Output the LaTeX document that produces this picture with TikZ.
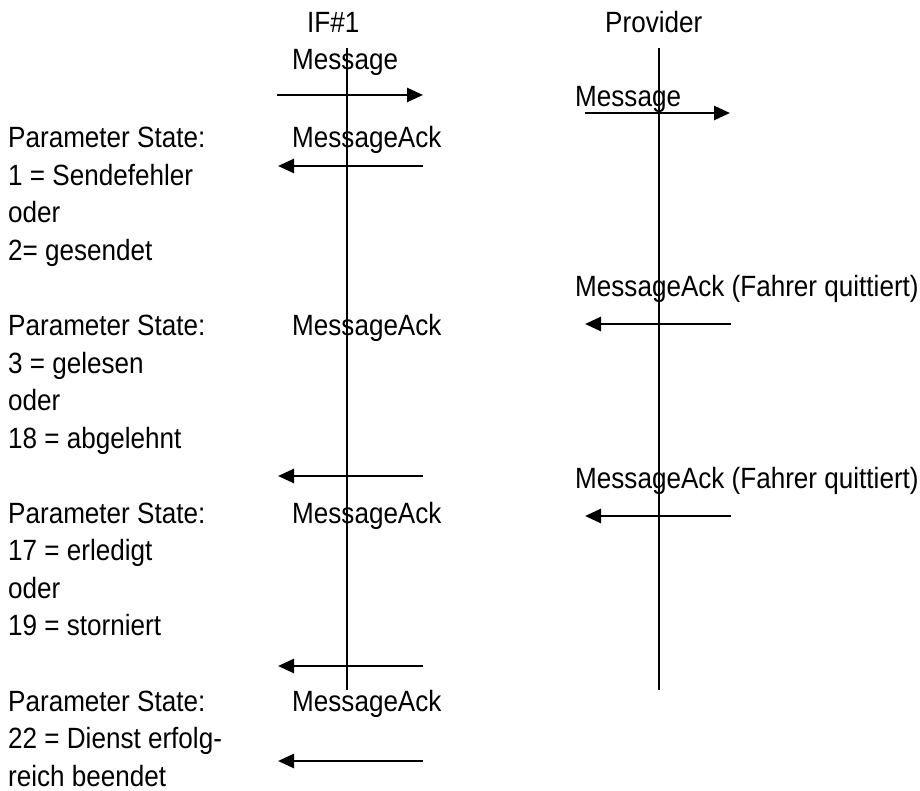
\documentclass[tikz,border=0pt]{standalone}
\usepackage{fontspec}
\setmainfont{Liberation Sans}[FakeStretch=0.89]
\usetikzlibrary{arrows.meta}
\newcommand{\lines}[1]{\vtop{\baselineskip=37.5pt\lineskiplimit=-100pt #1}}
\begin{document}
\begin{tikzpicture}[x=1pt,y=-1pt,
  lbl/.style={inner sep=0pt,anchor=base west,font=\fontsize{29.3}{37.5}\selectfont},
  msg/.style={line width=2.6pt,-{Triangle[length=16pt,width=14pt]}},
  life/.style={line width=2pt}]
\useasboundingbox (0,0) rectangle (920,791);
% headers
\node[lbl] (hif) at (307,33) {IF\#1};
\node[lbl] (hprov) at (605,33) {Provider};
% lifelines
\coordinate (ift) at (347,48);
\coordinate (ifb) at (347,690);
\coordinate (pt) at (659,48);
\coordinate (pb) at (659,690);
\draw[life] (ift) -- (ifb);
\draw[life] (pt) -- (pb);
% labels at IF#1
\node[lbl] (lm1) at (292,70) {Message};
\node[lbl] (la1) at (292,148) {MessageAck};
\node[lbl] (la2) at (292,335.5) {MessageAck};
\node[lbl] (la3) at (292,523) {MessageAck};
\node[lbl] (la4) at (292,711) {MessageAck};
% labels at provider
\node[lbl] (pm1) at (575,107) {Message};
\node[lbl] (pa1) at (575,297) {MessageAck (Fahrer quittiert)};
\node[lbl] (pa2) at (575,488) {MessageAck (Fahrer quittiert)};
% left blocks
\node[lbl] (b1) at (8,148) {\lines{\hbox{Parameter State:}\hbox{1 = Sendefehler}\hbox{oder}\hbox{2= gesendet}}};
\node[lbl] (b2) at (8,335.5) {\lines{\hbox{Parameter State:}\hbox{3 = gelesen}\hbox{oder}\hbox{18 = abgelehnt}}};
\node[lbl] (b3) at (8,523) {\lines{\hbox{Parameter State:}\hbox{17 = erledigt}\hbox{oder}\hbox{19 = storniert}}};
\node[lbl] (b4) at (8,711) {\lines{\hbox{Parameter State:}\hbox{22 = Dienst erfolg-}\hbox{reich beendet}}};
% arrow end points
\coordinate (m1s) at (277,95);   \coordinate (m1e) at (423,95);
\coordinate (a1s) at (423,166);  \coordinate (a1e) at (278,166);
\coordinate (a2s) at (423,476);  \coordinate (a2e) at (278,476);
\coordinate (a3s) at (423,666);  \coordinate (a3e) at (278,666);
\coordinate (a4s) at (423,761);  \coordinate (a4e) at (278,761);
\coordinate (p1s) at (585,113);  \coordinate (p1e) at (730,113);
\coordinate (q1s) at (731,324);  \coordinate (q1e) at (585,324);
\coordinate (q2s) at (731,516);  \coordinate (q2e) at (585,516);
\draw[msg] (m1s) -- (m1e);
\draw[msg] (a1s) -- (a1e);
\draw[msg] (a2s) -- (a2e);
\draw[msg] (a3s) -- (a3e);
\draw[msg] (a4s) -- (a4e);
\draw[msg] (p1s) -- (p1e);
\draw[msg] (q1s) -- (q1e);
\draw[msg] (q2s) -- (q2e);
\end{tikzpicture}
\end{document}
